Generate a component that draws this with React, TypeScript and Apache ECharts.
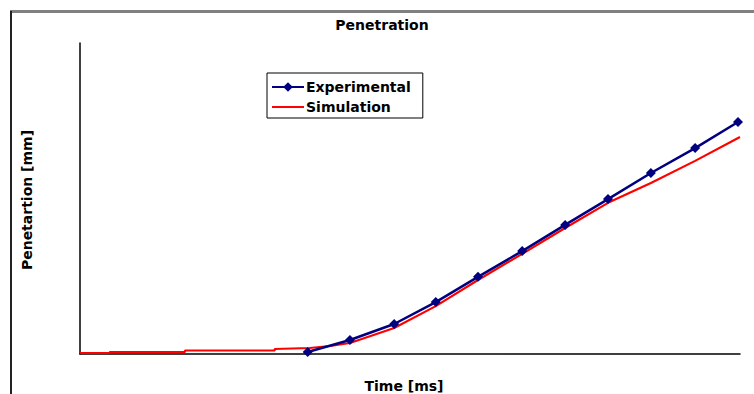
import React, { useEffect, useRef } from "react";
import * as echarts from "echarts";

const titleText = "Penetration";
const xAxisTitle = "Time [ms]";
const yAxisTitle = "Penetartion [mm]";
const seriesNames = ["Experimental", "Simulation"];

const expTime = [3.45, 4.09, 4.76, 5.39, 6.03, 6.7, 7.35, 8.0, 8.65, 9.32, 9.97];
const expPen = [0.64, 4.5, 9.65, 16.7, 24.8, 33.1, 41.5, 49.8, 58.2, 66.2, 74.6];

const simTime = [0, 0.45, 0.45, 1.59, 1.59, 2.95, 2.95, 3.48, 3.79, 4.09, 4.76, 5.39, 6.03, 6.7, 7.35, 8.0, 8.65, 9.32, 10.0];
const simPen = [0.32, 0.32, 0.64, 0.64, 1.13, 1.13, 1.61, 1.93, 2.57, 3.54, 8.36, 15.4, 23.8, 32.2, 40.5, 48.6, 55.0, 62.1, 69.8];

const FONT = "DejaVu Sans";

export default function App() {
  const ref = useRef<HTMLDivElement>(null);
  useEffect(() => {
    document.body.style.margin = "0";
    if (!ref.current) return;
    const chart = echarts.init(ref.current, undefined, { renderer: "svg" });
    chart.setOption({
      animation: false,
      backgroundColor: "#ffffff",
      title: {
        text: titleText,
        left: 377,
        top: 13,
        textAlign: "center",
        textStyle: { fontFamily: FONT, fontSize: 14, fontWeight: "bold", color: "#000" },
      },
      legend: {
        orient: "vertical",
        left: 267,
        top: 73,
        itemWidth: 32,
        itemHeight: 12,
        itemGap: 6,
        padding: [7, 12, 4, 4],
        borderColor: "#000",
        borderWidth: 1,
        backgroundColor: "#fff",
        textStyle: { fontFamily: FONT, fontSize: 14, fontWeight: "bold", color: "#000", padding: [0, 0, 0, -3] },
        data: [
          { name: seriesNames[0] },
          { name: seriesNames[1], itemStyle: { opacity: 0 } },
        ],
      },
      grid: { left: 80, right: 14, top: 43, bottom: 40, containLabel: false },
      xAxis: {
        type: "value",
        min: 0,
        max: 10,
        axisLine: { show: true, lineStyle: { color: "#000", width: 1.5 } },
        axisTick: { show: false },
        axisLabel: { show: false },
        splitLine: { show: false },
      },
      yAxis: {
        type: "value",
        min: 0,
        max: 100,
        axisLine: { show: true, lineStyle: { color: "#000", width: 1.5 } },
        axisTick: { show: false },
        axisLabel: { show: false },
        splitLine: { show: false },
      },
      graphic: [
        { type: "rect", shape: { x: 10, y: 10, width: 744, height: 3 }, style: { fill: "#808080" } },
        { type: "rect", shape: { x: 10, y: 11, width: 2, height: 383 }, style: { fill: "#222" } },
        {
          type: "text",
          x: 27,
          y: 200,
          rotation: Math.PI / 2,
          style: {
            text: yAxisTitle,
            fontFamily: FONT,
            fontSize: 14,
            fontWeight: "bold",
            fill: "#000",
            align: "center",
            verticalAlign: "middle",
          },
        },
        {
          type: "text",
          x: 404,
          y: 386,
          style: {
            text: xAxisTitle,
            fontFamily: FONT,
            fontSize: 14,
            fontWeight: "bold",
            fill: "#000",
            align: "center",
            verticalAlign: "middle",
          },
        },
      ],
      series: [
        {
          name: seriesNames[1],
          type: "line",
          data: simTime.map((t, i) => [t, simPen[i]]),
          symbol: "none",
          lineStyle: { color: "#ff0000", width: 2.2 },
          itemStyle: { color: "#ff0000" },
          z: 2,
        },
        {
          name: seriesNames[0],
          type: "line",
          data: expTime.map((t, i) => [t, expPen[i]]),
          symbol: "diamond",
          symbolSize: 10,
          lineStyle: { color: "#000080", width: 2.5 },
          itemStyle: { color: "#000080" },
          z: 3,
        },
      ],
    });
    return () => chart.dispose();
  }, []);
  return <div ref={ref} style={{ width: 754, height: 394 }} />;
}
